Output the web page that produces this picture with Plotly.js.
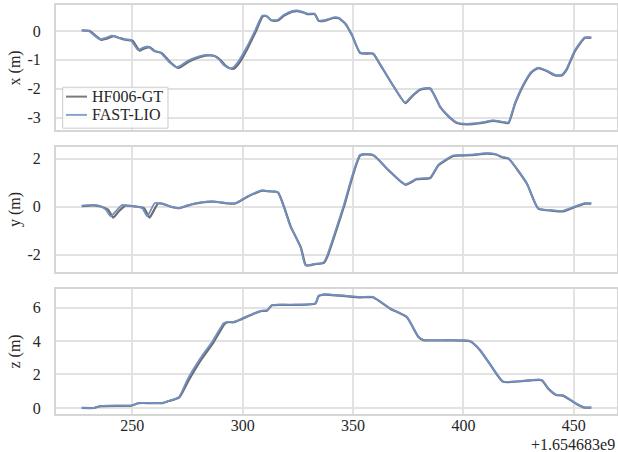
<!DOCTYPE html>
<html>
<head>
<meta charset="utf-8">
<script src="https://cdn.plot.ly/plotly-3.0.1.min.js"></script>
<style>html,body{margin:0;padding:0;background:#fff;}#chart{width:618px;height:452px;}</style>
</head>
<body>
<div id="chart"></div>
<script>
// time offset +1.654683e9 (seconds)
const seriesNames = ["HF006-GT", "FAST-LIO"];
const xTickVals = [250, 300, 350, 400, 450];
const xTickText = ["250", "300", "350", "400", "450"];
const offsetLabel = "+1.654683e9";
const yLabels = ["x (m)", "y (m)", "z (m)"];

// ---- x (m) ----
const tGT_x = [227.1,230.8,232.3,236.0,238.4,241.4,244.3,247.3,250.1,253.3,254.9,257.8,260.2,263.2,265.4,267.7,270.7,272.2,275.3,278.2,281.3,284.3,287.3,289.7,292.2,294.9,296.4,298.7,302.5,306.1,309.1,310.9,313.1,315.9,318.8,322.5,324.8,327.8,329.3,332.7,334.4,337.5,341.2,343.5,346.5,349.6,353.3,359.1,361.6,367.6,373.7,376.7,380.4,385.0,389.5,393.2,397.0,401.5,407.6,413.6,417.4,420.4,423.4,427.1,430.9,433.9,437.7,441.5,444.5,446.7,450.5,455.0,457.9];
const xGT = [0.02,0.0,-0.09,-0.31,-0.27,-0.18,-0.25,-0.31,-0.34,-0.68,-0.62,-0.56,-0.7,-0.76,-0.93,-1.12,-1.28,-1.24,-1.08,-0.97,-0.89,-0.85,-0.87,-0.99,-1.2,-1.31,-1.29,-1.08,-0.56,0.01,0.51,0.51,0.36,0.36,0.53,0.67,0.69,0.63,0.58,0.58,0.35,0.36,0.45,0.44,0.25,-0.16,-0.77,-0.79,-1.08,-1.83,-2.5,-2.27,-2.04,-2.0,-2.64,-2.96,-3.19,-3.24,-3.2,-3.12,-3.16,-3.19,-2.52,-1.89,-1.43,-1.29,-1.39,-1.54,-1.54,-1.35,-0.7,-0.24,-0.24];
const tFL_x = [227.1,230.2,231.6,235.3,237.7,240.7,243.7,246.7,249.3,252.6,254.2,257.1,259.5,262.5,264.7,267.0,270.0,271.5,274.6,277.6,280.7,283.7,286.7,289.0,291.4,294.1,295.6,298.0,302.0,305.7,308.8,310.6,312.8,315.6,318.5,322.3,324.6,327.6,329.1,332.5,334.2,337.4,341.1,343.4,346.4,349.5,353.2,359.0,361.5,367.5,373.6,376.6,380.3,384.9,389.4,393.1,396.9,401.4,407.5,413.5,417.3,420.3,423.3,427.0,430.8,433.8,437.6,441.4,444.4,446.6,450.4,454.9,457.9];
const xFL = [0.02,0.0,-0.08,-0.29,-0.25,-0.16,-0.23,-0.29,-0.32,-0.66,-0.6,-0.54,-0.68,-0.74,-0.91,-1.1,-1.26,-1.22,-1.06,-0.95,-0.87,-0.83,-0.85,-0.97,-1.18,-1.29,-1.27,-1.06,-0.54,0.03,0.53,0.53,0.38,0.38,0.55,0.69,0.71,0.65,0.6,0.6,0.37,0.38,0.47,0.46,0.27,-0.14,-0.75,-0.77,-1.06,-1.81,-2.48,-2.25,-2.02,-1.98,-2.62,-2.94,-3.17,-3.22,-3.18,-3.1,-3.14,-3.17,-2.5,-1.87,-1.41,-1.27,-1.37,-1.52,-1.52,-1.33,-0.68,-0.22,-0.22];

// ---- y (m) ----
const tGT_y = [227.1,232.6,235.7,239.0,241.4,243.8,247.0,249.0,252.3,255.3,257.8,259.8,261.6,263.5,267.5,271.3,275.1,281.0,287.0,293.0,296.8,302.2,309.0,312.0,316.0,321.9,326.4,328.6,330.8,332.3,336.8,338.3,345.8,353.4,359.2,366.1,373.7,378.9,385.0,388.7,395.5,403.1,410.6,414.3,418.1,420.4,428.7,433.9,440.7,445.2,451.3,455.0,457.9];
const yGT = [0.03,0.06,0.01,-0.12,-0.45,-0.2,0.05,0.04,0.0,-0.06,-0.45,-0.15,0.13,0.13,0.0,-0.06,0.05,0.17,0.21,0.14,0.14,0.42,0.67,0.64,0.60,-0.85,-1.7,-2.44,-2.44,-2.4,-2.34,-2.1,-0.02,2.15,2.15,1.52,0.92,1.15,1.2,1.73,2.12,2.15,2.22,2.19,2.05,2.01,0.97,-0.08,-0.17,-0.19,0.02,0.13,0.13];
const tFL_y = [227.1,232.6,235.7,238.0,240.2,242.5,245.5,248.0,252.3,254.5,256.8,258.6,260.1,262.8,267.3,271.1,274.9,280.9,286.9,292.9,296.7,302.0,308.8,311.8,315.8,321.6,326.1,328.3,330.6,332.1,336.6,338.1,345.6,353.2,359.0,366.0,373.6,378.8,384.9,388.6,395.4,403.0,410.5,414.2,418.0,420.3,428.6,433.8,440.6,445.1,451.2,454.9,457.9];
const yFL = [0.05,0.08,0.02,-0.12,-0.4,-0.19,0.08,0.05,0.01,-0.05,-0.4,-0.1,0.15,0.14,0.01,-0.06,0.06,0.18,0.22,0.15,0.15,0.43,0.68,0.65,0.61,-0.82,-1.65,-2.42,-2.42,-2.38,-2.32,-2.07,0.01,2.17,2.17,1.54,0.94,1.17,1.22,1.75,2.14,2.17,2.24,2.21,2.07,2.03,0.99,-0.06,-0.15,-0.17,0.04,0.15,0.15];

// ---- z (m) ----
const tGT_z = [227.1,232.6,235.7,243.5,249.2,253.0,258.5,263.6,265.8,271.3,275.5,281.5,286.8,291.9,293.2,295.9,299.0,305.0,308.8,311.0,313.3,321.6,332.9,334.4,336.6,353.2,359.0,366.8,374.3,379.6,381.8,389.4,403.0,407.5,412.8,418.0,435.4,438.3,442.1,445.1,451.2,454.9,457.9];
const zGT = [0.0,0.0,0.11,0.13,0.13,0.29,0.29,0.29,0.38,0.63,1.64,2.94,3.92,5.03,5.12,5.12,5.28,5.63,5.79,5.81,6.13,6.15,6.23,6.68,6.77,6.61,6.61,5.93,5.43,4.24,4.05,4.03,3.98,3.45,2.46,1.56,1.66,1.17,0.77,0.74,0.24,0.02,0.02];
const tFL_z = [227.1,232.6,235.7,243.5,249.2,253.0,258.5,263.6,265.8,271.1,274.9,280.9,286.2,291.4,292.9,295.9,299.0,305.0,308.8,311.0,313.3,321.6,332.9,334.4,336.6,353.2,359.0,366.8,374.3,379.6,381.8,389.4,403.0,407.5,412.8,418.0,435.4,438.3,442.1,445.1,451.2,454.9,457.9];
const zFL = [0.0,0.0,0.12,0.14,0.14,0.3,0.3,0.3,0.39,0.65,1.68,2.98,3.96,5.06,5.14,5.14,5.3,5.65,5.81,5.83,6.15,6.17,6.25,6.7,6.79,6.63,6.63,5.95,5.45,4.26,4.07,4.05,4.0,3.47,2.48,1.58,1.68,1.19,0.79,0.76,0.26,0.04,0.04];

const yTicks = [[-3,-2,-1,0],[-2,0,2],[0,2,4,6]];
const yTickText = [["-3","-2","-1","0"],["-2","0","2"],["0","2","4","6"]];

const gtColor = "#6d6d6d";
const flColor = "#7090c6";
const legendColors = ["#7a7a7a", "#86a2d4"];

const panels = [
  {t1: tGT_x, v1: xGT, t2: tFL_x, v2: xFL},
  {t1: tGT_y, v1: yGT, t2: tFL_y, v2: yFL},
  {t1: tGT_z, v1: zGT, t2: tFL_z, v2: zFL}
];

const traces = [];
panels.forEach((p, i) => {
  const xa = i === 0 ? "x" : "x" + (i + 1);
  const ya = i === 0 ? "y" : "y" + (i + 1);
  traces.push({x: p.t1, y: p.v1, xaxis: xa, yaxis: ya, type: "scatter", mode: "lines",
    name: seriesNames[0], showlegend: false,
    line: {color: gtColor, width: 2.2, shape: "spline", smoothing: 0.5}});
  traces.push({x: p.t2, y: p.v2, xaxis: xa, yaxis: ya, type: "scatter", mode: "lines",
    name: seriesNames[1], showlegend: false,
    line: {color: flColor, width: 1.8, shape: "spline", smoothing: 0.5}});
});

const font = {family: "Liberation Serif, serif", size: 16, color: "#262626"};
const domains = [[0.6946, 1], [0.3484, 0.6538], [0, 0.3054]];
const yRanges = [[-3.43, 0.9], [-2.7, 2.51], [-0.36, 7.1]];

const layout = {
  width: 618, height: 452,
  margin: {l: 56, r: 1, t: 5, b: 38},
  paper_bgcolor: "#ffffff", plot_bgcolor: "#ffffff",
  font: font,
  showlegend: false,
  annotations: [],
  shapes: []
};

for (let i = 0; i < 3; i++) {
  const xk = i === 0 ? "xaxis" : "xaxis" + (i + 1);
  const yk = i === 0 ? "yaxis" : "yaxis" + (i + 1);
  const ya = i === 0 ? "y" : "y" + (i + 1);
  const xa = i === 0 ? "x" : "x" + (i + 1);
  layout[xk] = {
    anchor: ya, domain: [0, 1], range: [215.45, 469.55],
    tickvals: xTickVals, ticktext: xTickText, showticklabels: i === 2,
    ticks: "", ticklabelstandoff: -4,
    showgrid: true, gridcolor: "#e2e2e2", gridwidth: 2,
    showline: true, mirror: true, linecolor: "#d6d6d6", linewidth: 2,
    zeroline: false, tickfont: font
  };
  layout[yk] = {
    anchor: xa, domain: domains[i], range: yRanges[i],
    tickvals: yTicks[i], ticktext: yTickText[i],
    ticks: "outside", ticklen: 10, tickcolor: "rgba(0,0,0,0)",
    showgrid: true, gridcolor: "#e2e2e2", gridwidth: 2,
    showline: true, mirror: true, linecolor: "#d6d6d6", linewidth: 2,
    zeroline: false, tickfont: font
  };
  layout.annotations.push({
    text: yLabels[i], xref: "paper", yref: "paper",
    x: -0.0731, y: (domains[i][0] + domains[i][1]) / 2,
    xanchor: "center", yanchor: "middle", textangle: -90,
    showarrow: false, font: font
  });
}
layout.annotations.push({
  text: offsetLabel, xref: "paper", yref: "paper", x: 1.0, y: -0.074,
  xanchor: "right", yanchor: "middle", showarrow: false, font: font
});

// legend (top panel, lower-left), drawn as box + sample lines + labels
const legBox = {x0: 0.0119, x1: 0.1996, y0: 0.6988, y1: 0.7989};
const legRows = [0.7760, 0.7313];
layout.shapes.push({type: "rect", xref: "paper", yref: "paper",
  x0: legBox.x0, x1: legBox.x1, y0: legBox.y0, y1: legBox.y1,
  fillcolor: "rgba(255,255,255,0.8)", line: {color: "#cccccc", width: 1}, layer: "above"});
seriesNames.forEach((name, k) => {
  layout.shapes.push({type: "line", xref: "paper", yref: "paper",
    x0: 0.0178, x1: 0.0553, y0: legRows[k], y1: legRows[k],
    line: {color: legendColors[k], width: 2}, layer: "above"});
  layout.annotations.push({text: name, xref: "paper", yref: "paper",
    x: 0.0606, y: legRows[k], xanchor: "left", yanchor: "middle",
    showarrow: false, font: font});
});

Plotly.newPlot("chart", traces, layout, {displayModeBar: false, staticPlot: true});
</script>
</body>
</html>
